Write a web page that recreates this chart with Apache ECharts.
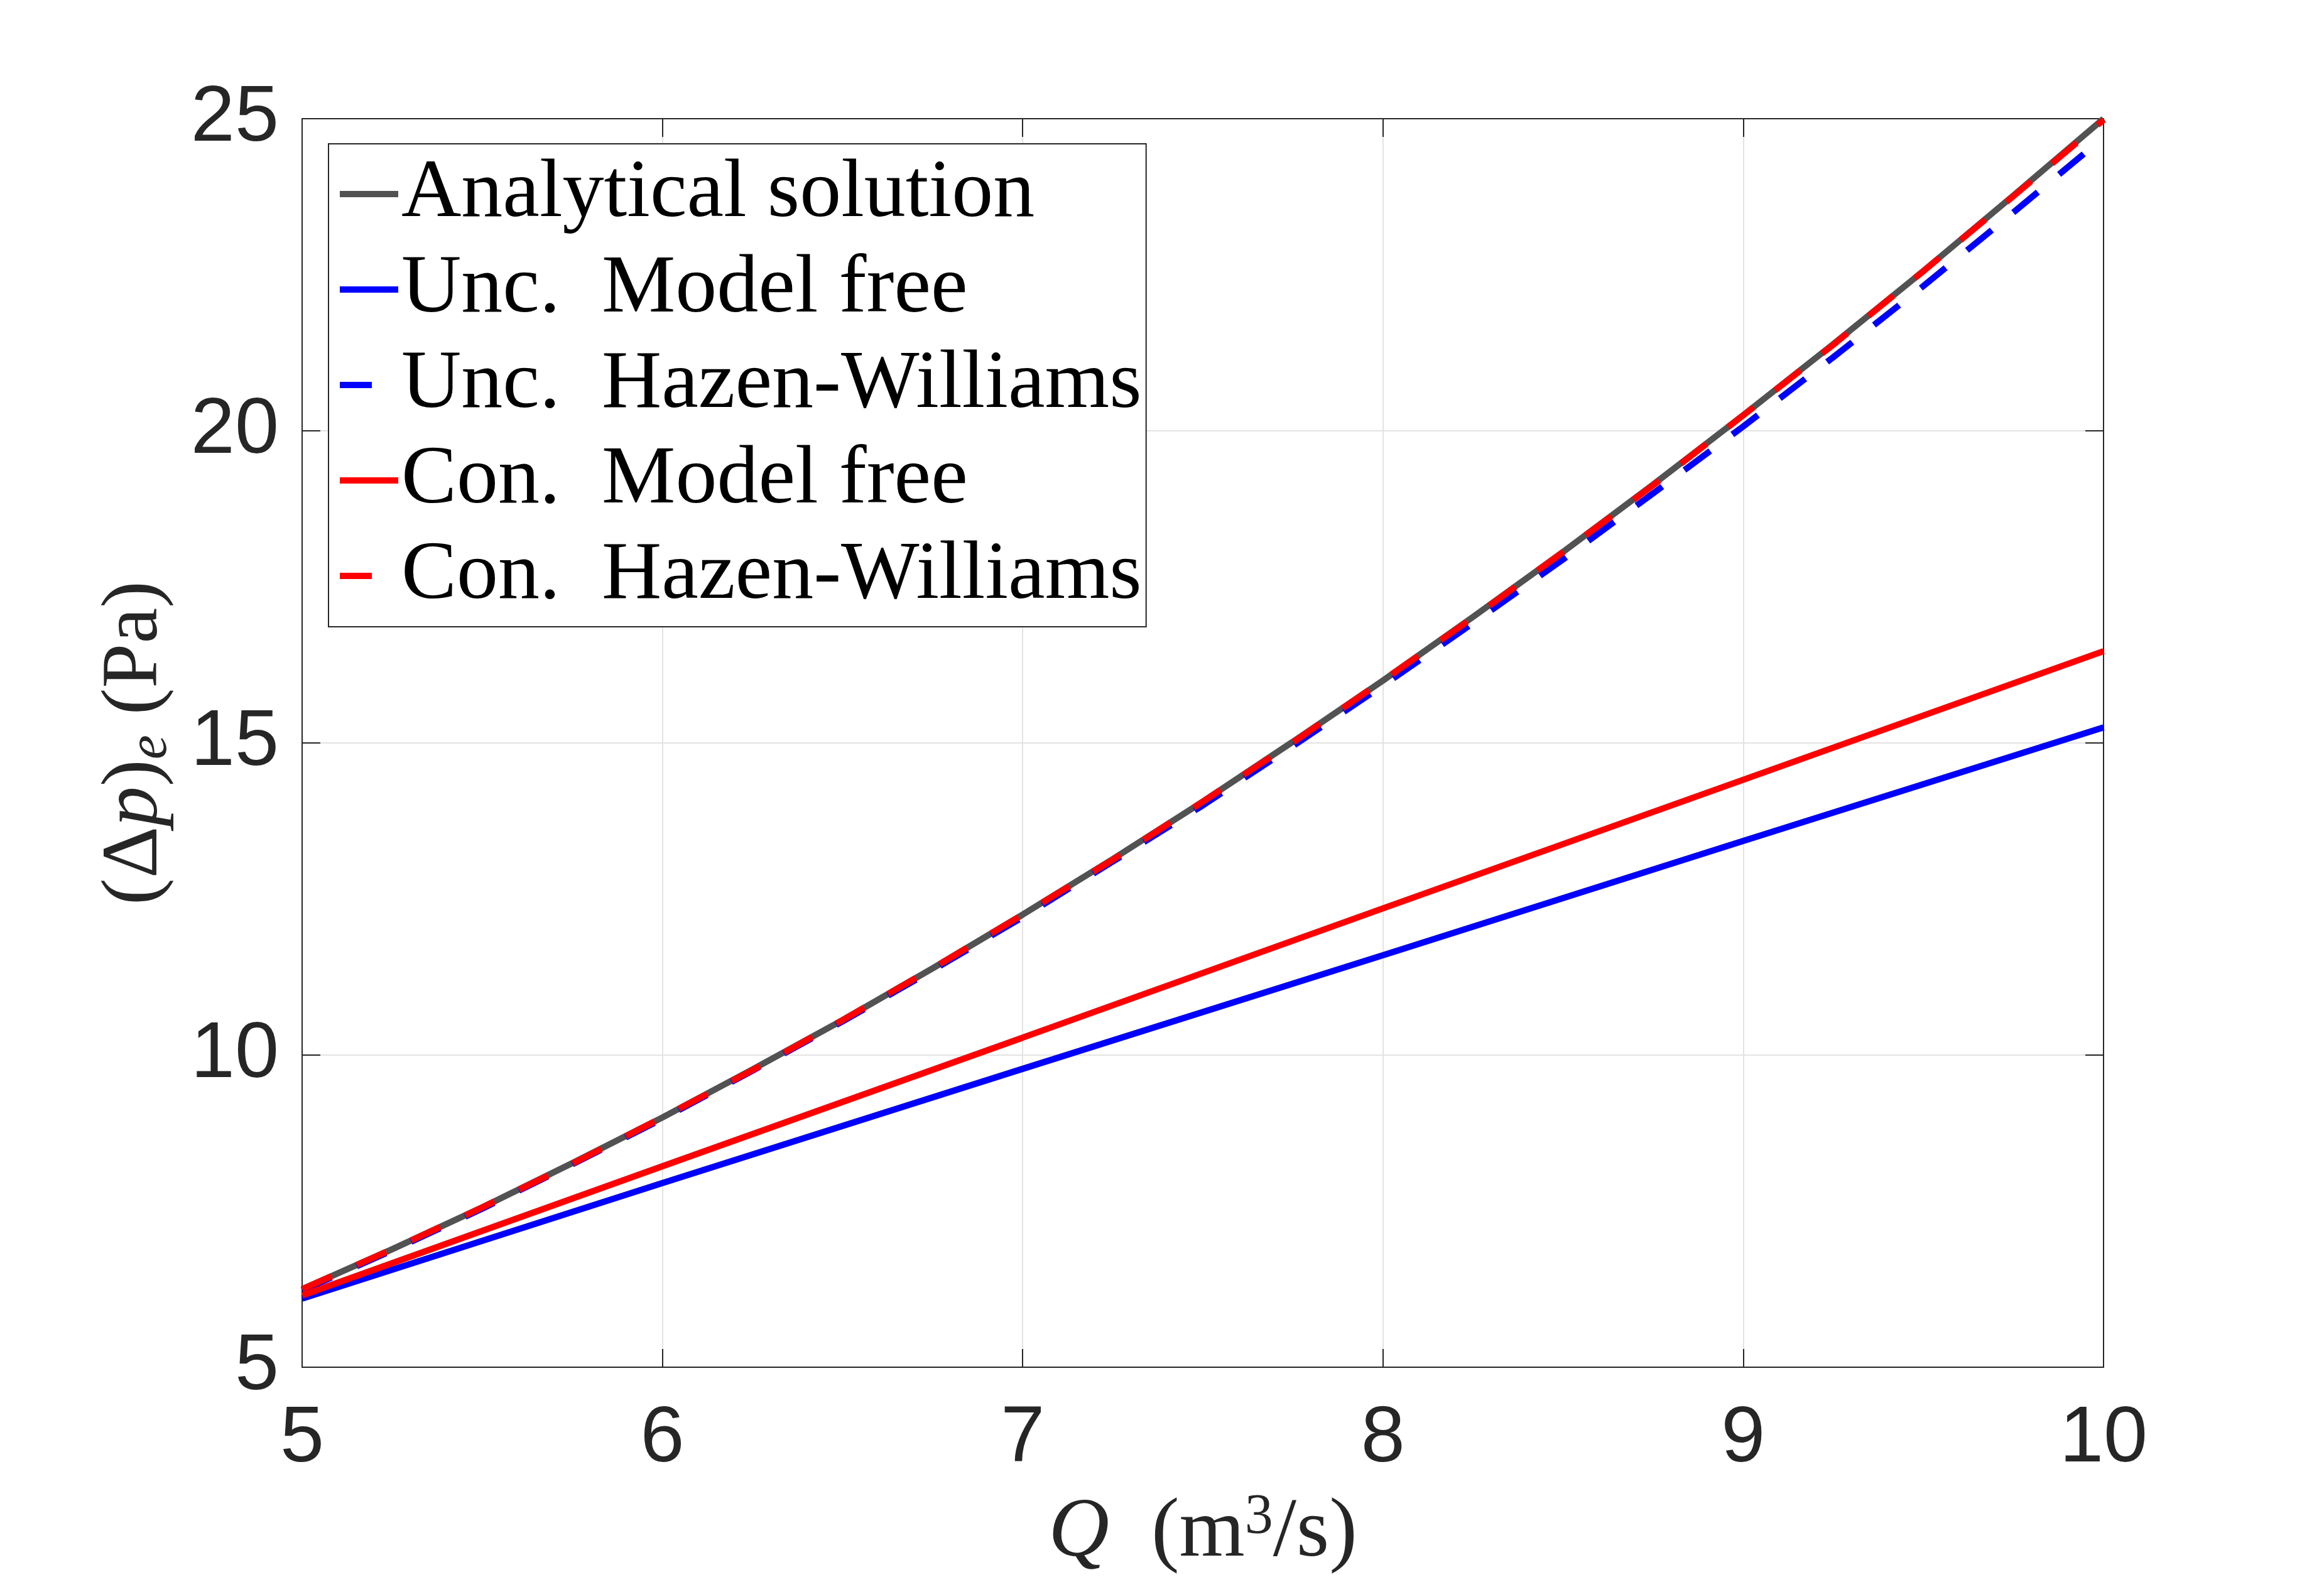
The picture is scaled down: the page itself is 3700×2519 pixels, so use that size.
<!DOCTYPE html>
<html>
<head>
<meta charset="utf-8">
<script src="https://cdn.jsdelivr.net/npm/echarts@6/dist/echarts.min.js"></script>
<style>
html,body{margin:0;padding:0;background:#fff;}
#chart{width:3700px;height:2519px;}
</style>
</head>
<body>
<div id="chart"></div>
<script>
// ---- data ----
const qFine = [5, 5.25, 5.5, 5.75, 6, 6.25, 6.5, 6.75, 7, 7.25, 7.5, 7.75, 8, 8.25, 8.5, 8.75, 9, 9.25, 9.5, 9.75, 10];
const analytical = [6.25, 6.89, 7.56, 8.27, 9.00, 9.77, 10.56, 11.39, 12.25, 13.14, 14.06, 15.02, 16.00, 17.02, 18.06, 19.14, 20.25, 21.39, 22.56, 23.77, 25.00];
const uncHazen = [6.23, 6.87, 7.54, 8.25, 8.98, 9.75, 10.54, 11.36, 12.21, 13.10, 14.00, 14.95, 15.92, 16.92, 17.94, 19.00, 20.07, 21.18, 22.32, 23.50, 24.70];
const conHazen = [6.25, 6.89, 7.56, 8.26, 9.00, 9.76, 10.56, 11.39, 12.25, 13.13, 14.06, 15.01, 16.00, 17.01, 18.06, 19.13, 20.25, 21.38, 22.56, 23.76, 24.98];
const qCoarse = [5, 6, 7, 8, 9, 10];
const uncModelFree = [6.10, 7.95, 9.78, 11.60, 13.43, 15.25];
const conModelFree = [6.15, 8.22, 10.28, 12.35, 14.41, 16.47];
const seriesNames = ['Analytical solution', 'Unc.\u2002Model free', 'Unc.\u2002Hazen-Williams', 'Con.\u2002Model free', 'Con.\u2002Hazen-Williams'];
const xTicks = [5, 6, 7, 8, 9, 10];
const yTicks = [5, 10, 15, 20, 25];

const pair = (xs, ys) => xs.map((x, i) => [x, ys[i]]);

const AX = '#262626';
const tickFont = {fontFamily: 'Liberation Sans', fontSize: 126, color: AX};
const dash = [51, 44];

const chart = echarts.init(document.getElementById('chart'), null, {renderer: 'canvas'});

function baseAxis(extra) {
  return Object.assign({
    type: 'value',
    axisLine: {show: true, onZero: false, lineStyle: {color: AX, width: 2}},
    axisTick: {show: true, inside: true, length: 29, lineStyle: {color: AX, width: 2}},
  }, extra);
}

const option = {
  backgroundColor: '#fff',
  animation: false,
  grid: {left: 481, top: 189, width: 2868, height: 1988, containLabel: false, outerBoundsMode: 'none'},
  legend: {
    orient: 'vertical',
    left: 523, top: 229,
    align: 'left',
    padding: [4, 7, 5, 13],
    itemGap: 0,
    itemWidth: 93,
    itemHeight: 2,
    selectedMode: false,
    backgroundColor: '#fff',
    borderColor: AX,
    borderWidth: 2,
    data: seriesNames,
    lineStyle: {width: 10, cap: 'butt'},
    textStyle: {fontFamily: 'Liberation Serif', fontSize: 132, lineHeight: 152, color: '#000'}
  },
  xAxis: [
    baseAxis({
      min: xTicks[0], max: xTicks[xTicks.length - 1], interval: 1,
      position: 'bottom',
      axisLabel: Object.assign({margin: 52}, tickFont),
      splitLine: {show: true, lineStyle: {color: '#e3e3e3', width: 2}},
      name: '{it|Q}\u2002(m{sup|3}/s)',
      nameLocation: 'middle',
      nameGap: 195,
      nameTextStyle: {
        fontFamily: 'Liberation Serif', fontSize: 134, color: AX, lineHeight: 140,
        rich: {
          it: {fontFamily: 'Liberation Serif', fontStyle: 'italic', fontSize: 134, color: AX},
          sup: {fontFamily: 'Liberation Serif', fontSize: 90, color: AX, verticalAlign: 'top', lineHeight: 90}
        }
      }
    }),
    baseAxis({
      min: xTicks[0], max: xTicks[xTicks.length - 1], interval: 1,
      position: 'top',
      axisLabel: {show: false},
      splitLine: {show: false}
    })
  ],
  yAxis: [
    baseAxis({
      min: yTicks[0], max: yTicks[yTicks.length - 1], interval: 5,
      position: 'left',
      axisLabel: Object.assign({margin: 37}, tickFont),
      splitLine: {show: true, lineStyle: {color: '#e3e3e3', width: 2}},
      name: '(Δ{it|p}){sub|e} (Pa)',
      nameLocation: 'middle',
      nameGap: 196,
      nameTextStyle: {
        fontFamily: 'Liberation Serif', fontSize: 128, color: AX, lineHeight: 140,
        rich: {
          it: {fontFamily: 'Liberation Serif', fontStyle: 'italic', fontSize: 128, color: AX},
          sub: {fontFamily: 'Liberation Serif', fontStyle: 'italic', fontSize: 88, color: AX, verticalAlign: 'bottom', lineHeight: 90}
        }
      }
    }),
    baseAxis({
      min: yTicks[0], max: yTicks[yTicks.length - 1], interval: 5,
      position: 'right',
      axisLabel: {show: false},
      splitLine: {show: false}
    })
  ],
  series: [
    {name: seriesNames[0], type: 'line', data: pair(qFine, analytical), showSymbol: false, symbol: 'none', clip: false,
     lineStyle: {color: '#525252', width: 10}, itemStyle: {color: '#525252'}},
    {name: seriesNames[1], type: 'line', data: pair(qCoarse, uncModelFree), showSymbol: false, symbol: 'none', clip: false,
     lineStyle: {color: '#0000ff', width: 10}, itemStyle: {color: '#0000ff'}},
    {name: seriesNames[2], type: 'line', data: pair(qFine, uncHazen), showSymbol: false, symbol: 'none', clip: false,
     lineStyle: {color: '#0000ff', width: 10, type: dash}, itemStyle: {color: '#0000ff'}},
    {name: seriesNames[3], type: 'line', data: pair(qCoarse, conModelFree), showSymbol: false, symbol: 'none', clip: false,
     lineStyle: {color: '#ff0000', width: 10}, itemStyle: {color: '#ff0000'}},
    {name: seriesNames[4], type: 'line', data: pair(qFine, conHazen), showSymbol: false, symbol: 'none', clip: false,
     lineStyle: {color: '#ff0000', width: 10, type: dash}, itemStyle: {color: '#ff0000'}}
  ]
};
chart.setOption(option);
</script>
</body>
</html>
